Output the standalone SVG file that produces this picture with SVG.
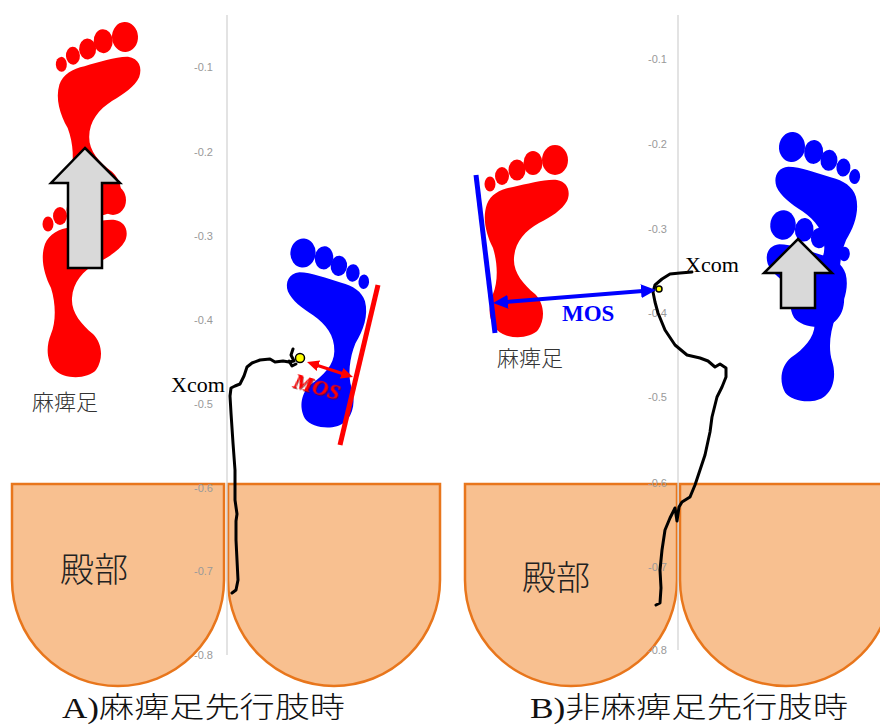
<svg xmlns="http://www.w3.org/2000/svg" xmlns:xlink="http://www.w3.org/1999/xlink" width="880" height="728" viewBox="0 0 880 728">
  <style>
    .axis { stroke: #d4d4d4; stroke-width: 1.3; fill: none; }
    .tick { font-family: "Liberation Sans", "Open Sans", sans-serif; font-size: 11px; fill: #999999; text-anchor: end; }
    .seat { fill: #F8C090; stroke: #E8761C; stroke-width: 2.5; }
    .seat-label { font-family: "Noto Sans CJK JP", sans-serif; font-size: 34px; font-weight: 300; fill: #222222; }
    .side-label { font-family: "Noto Sans CJK JP", sans-serif; font-size: 22px; font-weight: 300; fill: #333333; }
    .caption { font-family: "Liberation Serif", "Noto Sans CJK JP", serif; font-size: 29px; font-weight: 300; fill: #111111; }
    .xcom { font-family: "Liberation Serif", serif; font-size: 22px; fill: #000000; }
    .path-track { fill: none; stroke: #000000; stroke-width: 3; stroke-linejoin: round; stroke-linecap: round; }
    .step-arrow { fill: #D9D9D9; stroke: #000000; stroke-width: 2.5; stroke-linejoin: miter; }
    .dot { fill: #FFFF00; stroke: #000000; stroke-width: 1.5; }
  </style>
  <defs>
    <!-- footprint in local coordinates: big toe on the right, heel at the bottom -->
    <g id="footprint">
      <ellipse cx="72" cy="14" rx="13" ry="15"/>
      <ellipse cx="50" cy="17" rx="9.5" ry="12"/>
      <ellipse cx="34" cy="24" rx="8.5" ry="10.5"/>
      <ellipse cx="19" cy="30" rx="7" ry="9"/>
      <ellipse cx="7" cy="38" rx="5.5" ry="7.5"/>
      <path d="M 4 58 C 8 48, 18 43, 30 41 C 45 38, 62 33, 74 34 C 85 36, 88 46, 84 55 C 79 64, 68 71, 56 77 C 42 85, 32 96, 31 112 C 30 126, 40 138, 52 148 C 61 157, 63 172, 55 184 C 47 193, 24 194, 14 184 C 5 175, 5 160, 10 148 C 15 136, 15 118, 10 102 C 3 88, -1 72, 4 58 Z"/>
    </g>
    <marker id="head-red" viewBox="0 0 12 11" refX="4" refY="5.5" markerUnits="userSpaceOnUse" markerWidth="12" markerHeight="11" orient="auto-start-reverse">
      <path d="M 0 0 L 12 5.5 L 0 11 Z" fill="#FF0000"/>
    </marker>
    <marker id="head-blue" viewBox="0 0 15 14" refX="5" refY="7" markerUnits="userSpaceOnUse" markerWidth="15" markerHeight="14" orient="auto-start-reverse">
      <path d="M 0 0 L 15 7 L 0 14 Z" fill="#0000FF"/>
    </marker>
    <filter id="shade" x="-20%" y="-20%" width="140%" height="140%">
      <feDropShadow dx="1" dy="1" stdDeviation="0.6" flood-color="#7a0000" flood-opacity="0.7"/>
    </filter>
  </defs>

  <!-- chart axes with tick labels -->
  <g id="axis-a">
    <text class="tick" x="213" y="71">-0.1</text>
    <text class="tick" x="213" y="156">-0.2</text>
    <text class="tick" x="213" y="240">-0.3</text>
    <text class="tick" x="213" y="324">-0.4</text>
    <text class="tick" x="213" y="408">-0.5</text>
  </g>
  <g id="axis-b">
    <text class="tick" x="667" y="63">-0.1</text>
    <text class="tick" x="667" y="148">-0.2</text>
    <text class="tick" x="667" y="233">-0.3</text>
    <text class="tick" x="667" y="317">-0.4</text>
    <text class="tick" x="667" y="401">-0.5</text>
  </g>

  <!-- seat outlines (buttocks) -->
  <g id="seat-a">
    <path class="seat" d="M 12 484 H 224 V 580 A 106 106 0 0 1 12 580 Z"/>
    <path class="seat" d="M 228 484 H 440 V 580 A 106 106 0 0 1 228 580 Z"/>
    <text class="seat-label" x="60" y="582">殿部</text>
  </g>
  <g id="seat-b">
    <path class="seat" d="M 465 484 H 677 V 580 A 106 106 0 0 1 465 580 Z"/>
    <path class="seat" d="M 680 484 H 892 V 580 A 106 106 0 0 1 680 580 Z"/>
    <text class="seat-label" x="522" y="590">殿部</text>
  </g>

  <!-- axis lines and lower ticks drawn over the seats -->
  <g id="axis-lines">
    <line class="axis" x1="227" y1="15" x2="227" y2="655"/>
    <line class="axis" x1="678" y1="15" x2="678" y2="650"/>
    <text class="tick" x="213" y="492">-0.6</text>
    <text class="tick" x="213" y="575">-0.7</text>
    <text class="tick" x="213" y="659">-0.8</text>
    <text class="tick" x="667" y="487">-0.6</text>
    <text class="tick" x="667" y="571">-0.7</text>
    <text class="tick" x="667" y="654">-0.8</text>
  </g>

  <!-- panel A: paretic foot leading -->
  <g id="foot-a-red" fill="#FF0000">
    <use xlink:href="#footprint" transform="translate(125,37) rotate(-3) translate(-72,-14)"/>
    <use xlink:href="#footprint" transform="translate(41,186)"/>
  </g>
  <g id="step-arrow-a">
    <path class="step-arrow" d="M 85 148 L 120 183 L 102 183 L 102 268 L 68 268 L 68 183 L 51 183 Z"/>
  </g>
  <g id="label-a-paretic">
    <text class="side-label" x="32" y="410">麻痺足</text>
  </g>
  <g id="foot-a-blue" fill="#0000FF">
    <use xlink:href="#footprint" transform="translate(303,253) rotate(5) scale(-0.97,0.97) translate(-72,-14)"/>
  </g>
  <g id="edge-a">
    <line x1="378" y1="285" x2="340" y2="445" stroke="#FF0000" stroke-width="5"/>
  </g>

  <!-- panel B: non-paretic foot leading -->
  <g id="foot-b-red" fill="#FF0000">
    <use xlink:href="#footprint" transform="translate(483,146)"/>
  </g>
  <g id="edge-b">
    <line x1="476" y1="175" x2="495" y2="333" stroke="#0000FF" stroke-width="5"/>
  </g>
  <g id="label-b-paretic">
    <text class="side-label" x="497" y="366">麻痺足</text>
  </g>
  <g id="foot-b-blue" fill="#0000FF">
    <use xlink:href="#footprint" transform="translate(792,147) rotate(5) scale(-1,1) translate(-72,-14)"/>
    <use xlink:href="#footprint" transform="translate(783,225) rotate(5) scale(-0.98,0.98) translate(-72,-14)"/>
  </g>
  <g id="step-arrow-b">
    <path class="step-arrow" d="M 798 239 L 832 273 L 815 273 L 815 308 L 781 308 L 781 273 L 764 273 Z"/>
  </g>

  <!-- centre-of-mass trajectories and margin-of-stability arrows -->
  <g id="connectors">
    <path class="path-track" d="M 293 349 L 291 355 L 294 361 L 289 362 L 283 361 L 275 362 L 270 359 L 260 360 L 252 363 L 247 367 L 244 376 L 240 384 L 235 386 L 231 388 L 230 396 L 231 413 L 233 443 L 235 470 L 235 500 L 237 514 L 236 521 L 236 540 L 237 560 L 238 580 L 236 590 L 232 593"/>
    <path class="path-track" d="M 289 361 L 292 366 L 296 364"/>
    <line x1="314.6" y1="364.5" x2="345.4" y2="374.5" stroke="#FF0000" stroke-width="3" marker-start="url(#head-red)" marker-end="url(#head-red)"/>

    <path class="path-track" d="M 692 272 L 680 273 L 670 274 L 662 279 L 655 285 L 653 292 L 655 302 L 658 313 L 665 330 L 675 345 L 687 355 L 700 358 L 708 361 L 715 367 L 720 364 L 726 368 L 726 377 L 722 387 L 717 397 L 712 417 L 710 432 L 705 455 L 700 470 L 695 485 L 690 497 L 682 502 L 679 507 L 677 521 L 675 508 L 670 518 L 665 530 L 662 550 L 660 570 L 661 588 L 660 603 L 656 605"/>
    <line x1="503" y1="302.2" x2="646" y2="290.8" stroke="#0000FF" stroke-width="4" marker-start="url(#head-blue)" marker-end="url(#head-blue)"/>
  </g>

  <g id="xcom-a">
    <circle class="dot" cx="300" cy="358" r="4.5"/>
    <text class="xcom" x="171" y="392">Xcom</text>
  </g>
  <g id="xcom-b">
    <circle class="dot" cx="659" cy="289" r="3"/>
    <text class="xcom" x="685" y="272">Xcom</text>
  </g>

  <g id="mos-a">
    <text x="292" y="387" transform="rotate(16 292 387)" font-family="Liberation Serif, serif" font-size="22" font-weight="bold" font-style="italic" fill="#FF0000" filter="url(#shade)">MOS</text>
  </g>
  <g id="mos-b">
    <text x="562" y="321" font-family="Liberation Serif, serif" font-size="23" font-weight="bold" fill="#0000FF">MOS</text>
  </g>

  <!-- panel captions -->
  <g id="caption-a">
    <text class="caption" x="62" y="718" textLength="283" lengthAdjust="spacingAndGlyphs">A)麻痺足先行肢時</text>
  </g>
  <g id="caption-b">
    <text class="caption" x="530" y="718" textLength="318" lengthAdjust="spacingAndGlyphs">B)非麻痺足先行肢時</text>
  </g>
</svg>
